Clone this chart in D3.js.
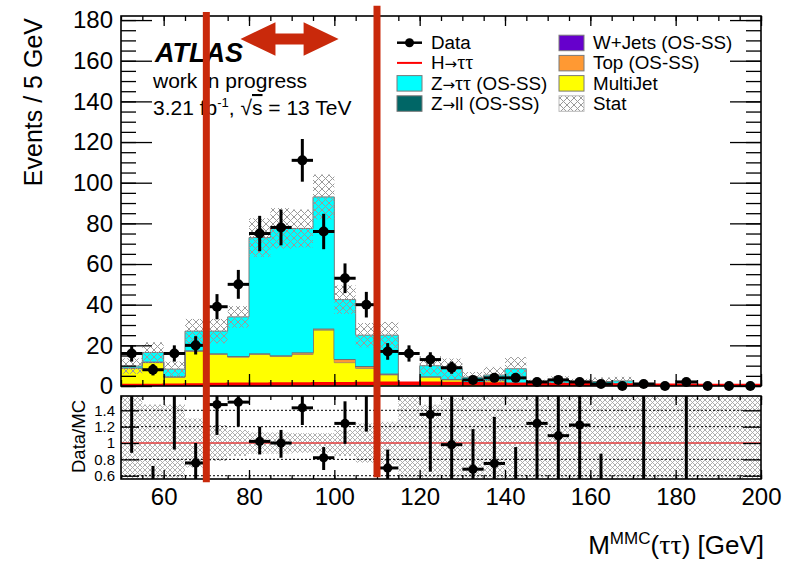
<!DOCTYPE html>
<html><head><meta charset="utf-8">
<script src="https://cdn.jsdelivr.net/npm/d3@7"></script>
<style>
body{margin:0;background:#fff}
svg{display:block}
text{font-family:"Liberation Sans",Arial,Helvetica,sans-serif;fill:#000}
.arr{font-family:"DejaVu Sans",sans-serif}
.gr{font-family:"Liberation Serif","DejaVu Serif",serif}
</style></head>
<body><svg id="c" width="786" height="562"></svg>
<script>
// ---------------- data ----------------
const binEdges = [50,55,60,65,70,75,80,85,90,95,100,105,110,115,120,125,130,135,140,145,150,155,160,165,170,175,180,185,190,195,200];
const dataCounts = [16,8,16,20,39,50,75,78,111,76,53,40,17,16,13,9,3,4,4,2,3,2,1,0,1,0,2,0,0,0];
const dataErr    = [4.0,2.8,4.0,4.5,6.2,7.1,8.7,8.8,10.5,8.7,7.3,6.3,4.1,4.0,3.6,3.0,1.7,2.0,2.0,1.4,1.7,1.4,1.0,0,1.0,0,1.4,0,0,0];
const multiJet = [8.6,11.5,4.3,17.0,15.5,14.2,15.5,14.5,15.5,27.5,11.5,8.7,5.5,0,4.3,3.0,1.5,2.5,0.4,0.4,0.5,0.3,0.3,0.3,0,0,0,0,0,0];
const topOSSS  = [0.2,0.2,0.2,0.3,0.3,0.3,0.3,0.3,0.8,0.5,1.5,0.8,0.3,0,0.3,0.3,0.3,0.3,0.5,0.3,0.3,0.2,0.2,0.2,0,0.1,0,0.1,0.1,0.1];
const wJets    = [0.1,0.1,0.1,0.1,0.1,0.1,0.1,0.1,0.1,0.1,0.1,0.1,0.1,0,0,0,0,0,0,0,0,0,0,0,0,0,0,0,0,0];
const zll      = [0.2,0.2,0.2,0.2,0.2,0.2,0.2,0.2,0.2,0.2,0.2,0.2,0.2,0,0.2,0.2,0.1,0.1,0.1,0,0,0,0,0,0,0,0,0,0,0];
const ztt      = [0.7,4.5,3.5,9.4,10.9,19.2,56.9,62.4,60.9,64.7,29.2,15.2,18.9,0,5.2,5.0,2.4,2.5,7.5,0.9,2.0,1.5,1.7,2.0,0.05,0.2,0.05,0.1,0.1,0.1];
const statErr  = [3.8,5.0,3.7,6.0,6.0,5.3,9.5,10.0,9.3,11.0,7.0,6.0,6.5,0,4.7,5.0,2.6,4.0,5.7,1.5,2.0,1.5,2.0,2.0,0.05,0.3,0.05,0.2,0.2,0.2];
const higgs    = [0.3,0.3,0.4,0.5,0.7,0.8,0.9,1.0,1.0,1.1,1.1,1.2,1.3,1.3,1.3,1.2,1.1,1.0,0.9,0.8,0.7,0.6,0.5,0.5,0.4,0.4,0.4,0.3,0.3,0.3];
// ratio panel; null = not drawn
const ratioVal = [1.9,0.45,1.9,0.756,1.47,1.5,1.02,1.0,1.43,0.82,1.24,1.8,0.695,null,1.35,0.98,0.68,0.75,0.45,1.24,1.09,1.22,0.4,null,5,null,5,null,null,null];
const ratioLo  = [0.88,0.2,0.92,0.55,1.1,1.2,0.86,0.82,1.22,0.67,0.99,1.14,0.45,null,0.65,0.3,0.3,0.3,0.1,0.2,0.2,0.2,0.1,null,0.2,null,0.2,null,null,null];
const ratioHi  = [2.9,0.72,2.9,1.0,1.85,1.8,1.2,1.16,1.6,0.95,1.51,2.5,0.92,null,2.0,1.7,1.17,1.32,0.95,2.5,2.5,2.5,0.87,null,10,null,10,null,null,null];
const ratioBand= [0.7,0.47,0.47,0.3,0.22,0.16,0.13,0.13,0.12,0.12,0.16,0.24,0.26,1,0.47,0.55,0.6,0.75,0.67,1,1,1,1,1,1,1,1,1,1,1];
// ticks
const yMajor = [0,20,40,60,80,100,120,140,160,180];
const yMinor = d3.range(0,181,5);
const xMajor = [60,80,100,120,140,160,180,200];
const xMinor = d3.range(50,201,5);
const rTicks = [0.6,0.8,1.0,1.2,1.4];
const rTickLabels = ["0.6","0.8","1","1.2","1.4"];
const rGrid = [0.6,0.8,1.2,1.4];
const windowEdges = [70,110];

// ---------------- layout ----------------
const svg = d3.select("#c");
const L = 121, Rr = 761, mT = 16, mB = 386, rT = 396, rB = 479;
const x = d3.scaleLinear().domain([50,200]).range([L,Rr]);
const y = d3.scaleLinear().domain([0,182]).range([mB,mT]);
const yr = d3.scaleLinear().domain([0.56,1.575]).range([rB,rT]);

const defs = svg.append("defs");
function hatch(id,s,col,sw){
  const p = defs.append("pattern").attr("id",id).attr("patternUnits","userSpaceOnUse").attr("width",s).attr("height",s);
  p.append("path").attr("d",`M0,0L${s},${s}M${s},0L0,${s}`).attr("stroke",col).attr("stroke-width",sw).attr("fill","none");
}
hatch("hm",7,"#9a9a9a",1);
hatch("hr",5,"#a6a6a6",0.9);
defs.append("clipPath").attr("id","cm").append("rect").attr("x",L).attr("y",mT).attr("width",Rr-L).attr("height",mB-mT);
defs.append("clipPath").attr("id","cr").append("rect").attr("x",L).attr("y",rT).attr("width",Rr-L).attr("height",rB-rT);

// ---------------- main panel ----------------
const rows = binEdges.slice(0,-1).map((lo,i)=>({lo,hi:binEdges[i+1],multiJet:multiJet[i],topOSSS:topOSSS[i],wJets:wJets[i],zll:zll[i],ztt:ztt[i]}));
const keys = ["multiJet","topOSSS","wJets","zll","ztt"];
const colors = {multiJet:"#ffff00",topOSSS:"#ff9933",wJets:"#6600cc",zll:"#006666",ztt:"#00ffff"};
const stacked = d3.stack().keys(keys)(rows);
const gm = svg.append("g").attr("clip-path","url(#cm)");
stacked.forEach(layer=>{
  const pts = [];
  layer.forEach((d,i)=>{ pts.push({x:x(rows[i].lo),y0:y(d[0]),y1:y(d[1])}); pts.push({x:x(rows[i].hi),y0:y(d[0]),y1:y(d[1])}); });
  gm.append("path").attr("d",d3.area().x(p=>p.x).y0(p=>p.y0).y1(p=>p.y1)(pts)).attr("fill",colors[layer.key]);
  gm.append("path").attr("d",d3.line().x(p=>p.x).y(p=>p.y1)(pts)).attr("fill","none").attr("stroke","#7a7a7a").attr("stroke-width",1);
});
const totals = rows.map((r,i)=>stacked[stacked.length-1][i][1]);
gm.selectAll("rect.stat").data(rows.map((r,i)=>({r,t:totals[i],e:statErr[i]})).filter(d=>d.e>0))
  .join("rect").attr("x",d=>x(d.r.lo)).attr("width",d=>x(d.r.hi)-x(d.r.lo))
  .attr("y",d=>y(d.t+d.e)).attr("height",d=>y(Math.max(0,d.t-d.e))-y(d.t+d.e)).attr("fill","url(#hm)");
// Higgs
const hp=[]; rows.forEach((r,i)=>{hp.push([x(r.lo),y(higgs[i])]);hp.push([x(r.hi),y(higgs[i])]);});
gm.append("path").attr("d",d3.line()(hp)).attr("fill","none").attr("stroke","#ff0000").attr("stroke-width",3.5);
// data
const gd = svg.append("g");
rows.forEach((r,i)=>{
  const c = x((r.lo+r.hi)/2), v = dataCounts[i], e = dataErr[i];
  if (v>0){
    gd.append("line").attr("x1",c).attr("x2",c).attr("y1",y(v-e)).attr("y2",y(v+e)).attr("stroke","#000").attr("stroke-width",3);
    gd.append("line").attr("x1",x(r.lo)).attr("x2",x(r.hi)).attr("y1",y(v)).attr("y2",y(v)).attr("stroke","#000").attr("stroke-width",3);
  }
  gd.append("circle").attr("cx",c).attr("cy",y(v)).attr("r",5).attr("fill","#000");
});

// axes main
function strip(g){g.select(".domain").remove(); g.selectAll(".tick line").attr("stroke","#000").attr("stroke-width",1.3);}
svg.append("g").attr("transform",`translate(${L},0)`).call(d3.axisLeft(y).tickValues(yMinor).tickSize(-15).tickFormat("")).call(strip);
svg.append("g").attr("transform",`translate(${L},0)`).call(d3.axisLeft(y).tickValues(yMajor).tickSize(-31).tickPadding(8).tickFormat(d3.format("d"))).call(strip)
  .selectAll("text").attr("font-size",24).attr("font-family","Liberation Sans, Arial, sans-serif");
svg.append("g").attr("transform",`translate(${Rr},0)`).call(d3.axisRight(y).tickValues(yMinor).tickSize(-15).tickFormat("")).call(strip);
svg.append("g").attr("transform",`translate(${Rr},0)`).call(d3.axisRight(y).tickValues(yMajor).tickSize(-31).tickFormat("")).call(strip);
svg.append("g").attr("transform",`translate(0,${mB})`).call(d3.axisBottom(x).tickValues(xMinor).tickSize(-6).tickFormat("")).call(strip);
svg.append("g").attr("transform",`translate(0,${mB})`).call(d3.axisBottom(x).tickValues(xMajor).tickSize(-12).tickFormat("")).call(strip);
svg.append("g").attr("transform",`translate(0,${mT})`).call(d3.axisTop(x).tickValues(xMinor).tickSize(-5).tickFormat("")).call(strip);
svg.append("g").attr("transform",`translate(0,${mT})`).call(d3.axisTop(x).tickValues(xMajor).tickSize(-10).tickFormat("")).call(strip);
svg.append("rect").attr("x",L).attr("y",mT).attr("width",Rr-L).attr("height",mB-mT).attr("fill","none").attr("stroke","#000").attr("stroke-width",1.6);

// ---------------- ratio panel ----------------
const gr = svg.append("g").attr("clip-path","url(#cr)");
rows.forEach((r,i)=>{
  const b = ratioBand[i];
  gr.append("rect").attr("x",x(r.lo)).attr("width",x(r.hi)-x(r.lo)).attr("y",yr(1+b)).attr("height",yr(1-b)-yr(1+b)).attr("fill","url(#hr)");
});
rGrid.forEach(v=>gr.append("line").attr("x1",L).attr("x2",Rr).attr("y1",yr(v)).attr("y2",yr(v)).attr("stroke","#000").attr("stroke-width",1).attr("stroke-dasharray","2,2"));
gr.append("line").attr("x1",L).attr("x2",Rr).attr("y1",yr(1)).attr("y2",yr(1)).attr("stroke","#e03a3a").attr("stroke-width",1.4);
rows.forEach((r,i)=>{
  const v = ratioVal[i]; if (v===null) return;
  const c = x((r.lo+r.hi)/2);
  gr.append("line").attr("x1",c).attr("x2",c).attr("y1",yr(ratioLo[i])).attr("y2",yr(ratioHi[i])).attr("stroke","#000").attr("stroke-width",3);
  gr.append("line").attr("x1",x(r.lo)).attr("x2",x(r.hi)).attr("y1",yr(v)).attr("y2",yr(v)).attr("stroke","#000").attr("stroke-width",3);
  gr.append("circle").attr("cx",c).attr("cy",yr(v)).attr("r",4.6).attr("fill","#000");
});
svg.append("g").attr("transform",`translate(${L},0)`).call(d3.axisLeft(yr).tickValues(rTicks).tickSize(-18).tickPadding(6).tickFormat((d,i)=>rTickLabels[i])).call(strip)
  .selectAll("text").attr("font-size",15);
svg.append("g").attr("transform",`translate(${Rr},0)`).call(d3.axisRight(yr).tickValues(rTicks).tickSize(-18).tickFormat("")).call(strip);
svg.append("g").attr("transform",`translate(0,${rB})`).call(d3.axisBottom(x).tickValues(xMinor).tickSize(-4).tickFormat("")).call(strip);
svg.append("g").attr("transform",`translate(0,${rB})`).call(d3.axisBottom(x).tickValues(xMajor).tickSize(-9).tickPadding(9).tickFormat(d3.format("d"))).call(strip)
  .selectAll("text").attr("font-size",24);
svg.append("g").attr("transform",`translate(0,${rT})`).call(d3.axisTop(x).tickValues(xMinor).tickSize(-4).tickFormat("")).call(strip);
svg.append("g").attr("transform",`translate(0,${rT})`).call(d3.axisTop(x).tickValues(xMajor).tickSize(-9).tickFormat("")).call(strip);
svg.append("rect").attr("x",L).attr("y",rT).attr("width",Rr-L).attr("height",rB-rT).attr("fill","none").attr("stroke","#000").attr("stroke-width",1.6);

// ---------------- titles ----------------
svg.append("text").attr("transform",`translate(42,${mT+2}) rotate(-90)`).attr("text-anchor","end").attr("font-size",25).text("Events / 5 GeV");
svg.append("text").attr("transform",`translate(85,${rT+4}) rotate(-90)`).attr("text-anchor","end").attr("font-size",18.5).text("Data/MC");
const xt = svg.append("text").attr("x",764).attr("y",554).attr("text-anchor","end").attr("font-size",26);
xt.append("tspan").text("M");
xt.append("tspan").attr("font-size",17).attr("dy",-10).text("MMC");
xt.append("tspan").attr("dy",10).text("(");
xt.append("tspan").attr("class","gr").attr("font-size",28).text("ττ");
xt.append("tspan").text(") [GeV]");

svg.append("text").attr("x",155).attr("y",62).attr("font-size",27).attr("font-weight","bold").attr("font-style","italic").text("ATLAS");
svg.append("text").attr("x",153).attr("y",88).attr("font-size",21).text("work in progress");
const lumi = svg.append("text").attr("x",153).attr("y",115).attr("font-size",21);
lumi.append("tspan").text("3.21 fb");
lumi.append("tspan").attr("font-size",13).attr("dy",-8).text("-1");
lumi.append("tspan").attr("dy",8).text(", √");
lumi.append("tspan").attr("text-decoration","overline").text("s");
lumi.append("tspan").text(" = 13 TeV");

// ---------------- legend ----------------
const legend = [
  {label:["Data"], type:"data", col:0, row:0},
  {label:["H","→","ττ"], type:"line", color:"#ff0000", col:0, row:1},
  {label:["Z","→","ττ"," (OS-SS)"], type:"box", color:colors.ztt, col:0, row:2},
  {label:["Z","→","ll (OS-SS)"], type:"box", color:colors.zll, col:0, row:3},
  {label:["W+Jets (OS-SS)"], type:"box", color:colors.wJets, col:1, row:0},
  {label:["Top (OS-SS)"], type:"box", color:colors.topOSSS, col:1, row:1},
  {label:["MultiJet"], type:"box", color:colors.multiJet, col:1, row:2},
  {label:["Stat"], type:"hatch", col:1, row:3}
];
const colX = [397,559], rowY0 = 42.7, rowDy = 20.2;
legend.forEach(e=>{
  const lx = colX[e.col], ly = rowY0 + e.row*rowDy;
  if (e.type==="data"){
    svg.append("line").attr("x1",lx).attr("x2",lx+25).attr("y1",ly).attr("y2",ly).attr("stroke","#000").attr("stroke-width",2.5);
    svg.append("circle").attr("cx",lx+12.5).attr("cy",ly).attr("r",4.5).attr("fill","#000");
  } else if (e.type==="line"){
    svg.append("line").attr("x1",lx).attr("x2",lx+25).attr("y1",ly).attr("y2",ly).attr("stroke",e.color).attr("stroke-width",2);
  } else if (e.type==="box"){
    svg.append("rect").attr("x",lx).attr("y",ly-7.5).attr("width",25).attr("height",15.5).attr("fill",e.color).attr("stroke","#7a7a7a").attr("stroke-width",1);
  } else {
    svg.append("rect").attr("x",lx).attr("y",ly-7.5).attr("width",25).attr("height",15.5).attr("fill","url(#hm)").attr("stroke","#bbbbbb").attr("stroke-width",1);
  }
  const t = svg.append("text").attr("x",lx+34).attr("y",ly+6.5).attr("font-size",18.8);
  e.label.forEach(s=>{
    const ts = t.append("tspan").text(s);
    if (s==="→") ts.attr("class","arr").attr("font-size",15);
    if (s==="ττ") ts.attr("class","gr").attr("font-size",20);
  });
});

// ---------------- annotations (mass window) ----------------
const red = "#c9290b";
svg.append("line").attr("x1",x(windowEdges[0])).attr("x2",x(windowEdges[0])).attr("y1",y(184)).attr("y2",yr(0.52)).attr("stroke",red).attr("stroke-width",7);
svg.append("line").attr("x1",x(windowEdges[1])).attr("x2",x(windowEdges[1])).attr("y1",y(187)).attr("y2",yr(0.58)).attr("stroke",red).attr("stroke-width",7);
const ax0 = x(78), ax1 = x(101), ay = y(170.7), hl = 35, hh = 16.7, sh = 5.5;
svg.append("path").attr("fill",red).attr("d",
  `M${ax0},${ay}L${ax0+hl},${ay-hh}L${ax0+hl},${ay-sh}L${ax1-hl},${ay-sh}L${ax1-hl},${ay-hh}L${ax1},${ay}L${ax1-hl},${ay+hh}L${ax1-hl},${ay+sh}L${ax0+hl},${ay+sh}L${ax0+hl},${ay+hh}Z`);
</script></body></html>
